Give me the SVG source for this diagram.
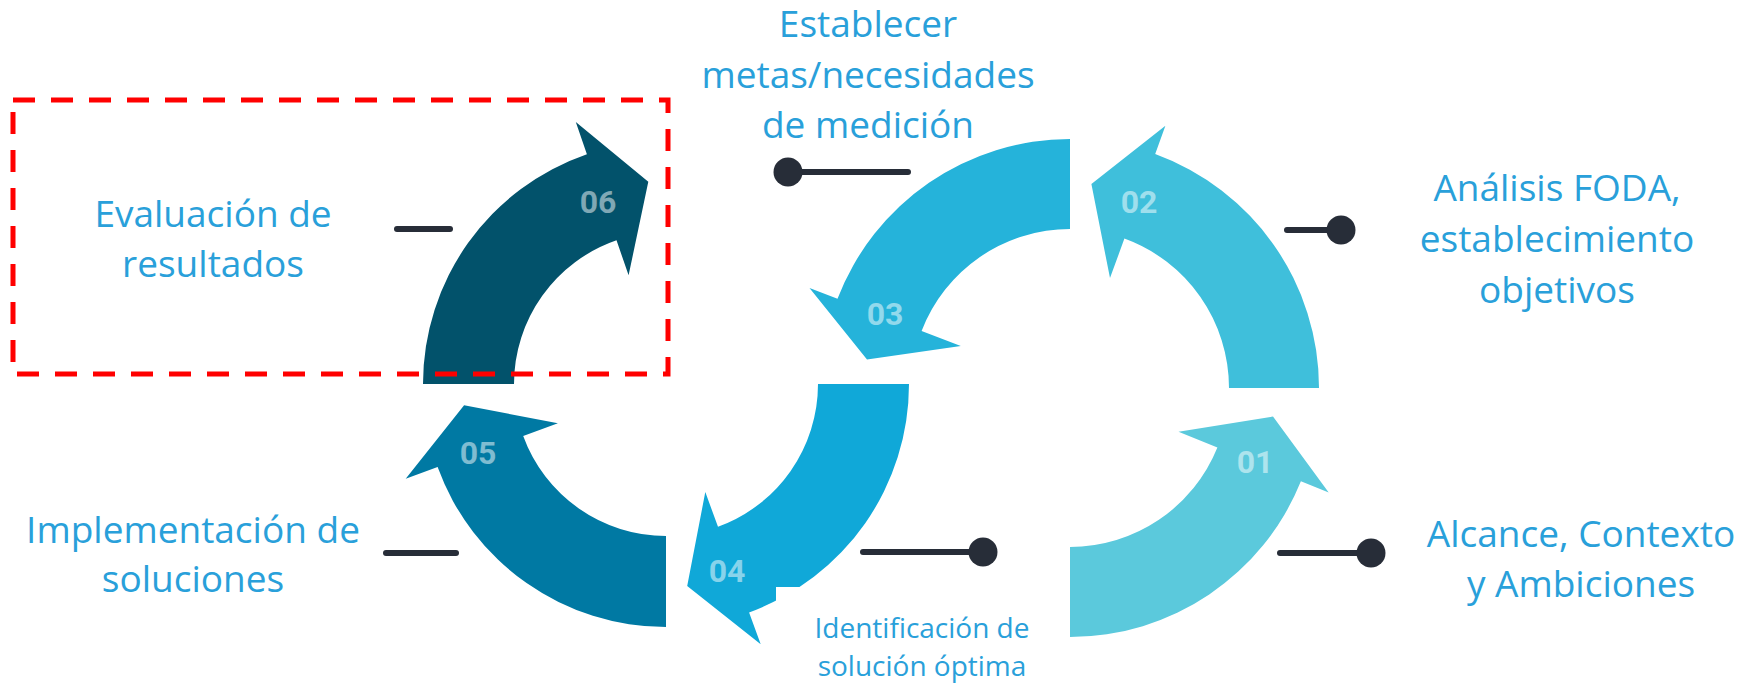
<svg xmlns="http://www.w3.org/2000/svg" width="1752" height="683" viewBox="0 0 1752 683">
<style>
.lbl{font-family:"Open Sans","Liberation Sans",sans-serif;font-size:37px;fill:#29a0da;text-anchor:middle}
.sm{font-size:28px}
.num{font-family:Roboto,"Liberation Sans",sans-serif;font-weight:bold;font-size:32px;fill:#ffffff;fill-opacity:0.5;text-anchor:middle}
.ln{stroke:#272d38;stroke-width:6;stroke-linecap:round;fill:none}
.dot{fill:#272d38}
</style>
<rect width="1752" height="683" fill="#ffffff"/>
<g id="arrow-01">
<path d="M1070,637 A249,249 0 0 0 1300.9,481.3 L1328.7,492.5 L1273,416.5 L1178.5,431.8 L1217.4,447.6 A159,159 0 0 1 1070,547 Z" fill="#5bc9dc"/>
<text class="num" x="1255" y="473">01</text>
</g>
<g id="arrow-02">
<path d="M1319,388 A249,249 0 0 0 1155.2,154 L1165.4,125.8 L1091.4,184.1 L1110,278.1 L1124.4,238.6 A159,159 0 0 1 1229,388 Z" fill="#3fbfdb"/>
<text class="num" x="1139" y="213">02</text>
</g>
<g id="arrow-03">
<path d="M1070,139 A249,249 0 0 0 837.5,298.8 L809.5,288 L867,359.5 L960.8,346.1 L921.6,331 A159,159 0 0 1 1070,229 Z" fill="#25b3da"/>
<text class="num" x="885" y="325">03</text>
</g>
<g id="arrow-04">
<path d="M909,384 A243,243 0 0 1 749.1,612.4 L760.7,644.3 L687.2,585.9 L705.3,492.1 L718,526.8 A152,152 0 0 0 818,384 Z" fill="#10a8d8"/>
<text class="num" x="727" y="582">04</text>
</g>
<g id="arrow-05">
<path d="M666,627 A243,243 0 0 1 437.6,467.1 L405.7,478.7 L464.1,405.2 L557.9,423.3 L523.2,436 A152,152 0 0 0 666,536 Z" fill="#0079a3"/>
<text class="num" x="478" y="464">05</text>
</g>
<g id="arrow-06">
<path d="M423,384 A243,243 0 0 1 586.9,154.2 L575.8,122.1 L648.3,181.8 L628.6,275.3 L616.5,240.3 A152,152 0 0 0 514,384 Z" fill="#02526b"/>
<text class="num" x="598" y="213">06</text>
</g>
<g id="connectors">
<line class="ln" x1="1287" y1="230" x2="1341" y2="230"/><circle class="dot" cx="1341" cy="230" r="14.5"/>
<line class="ln" x1="1280" y1="553" x2="1371" y2="553"/><circle class="dot" cx="1371" cy="553" r="14.5"/>
<line class="ln" x1="788" y1="172" x2="908" y2="172"/><circle class="dot" cx="788" cy="172" r="14.5"/>
<line class="ln" x1="863" y1="552" x2="983" y2="552"/><circle class="dot" cx="983" cy="552" r="14.5"/>
<line class="ln" x1="397" y1="229" x2="450" y2="229"/>
<line class="ln" x1="386" y1="553" x2="456" y2="553"/>
</g>
<g id="label-01"><text class="lbl" x="1581" y="547">Alcance, Contexto</text><text class="lbl" x="1581" y="597">y Ambiciones</text></g>
<g id="label-02"><text class="lbl" x="1557" y="201">Análisis FODA,</text><text class="lbl" x="1557" y="252">establecimiento</text><text class="lbl" x="1557" y="303">objetivos</text></g>
<g id="label-03"><text class="lbl" x="868" y="37">Establecer</text><text class="lbl" x="868" y="88">metas/necesidades</text><text class="lbl" x="868" y="138">de medición</text></g>
<g id="label-04"><rect x="776" y="587" width="294" height="96" fill="#ffffff"/><text class="lbl sm" x="922" y="638">Identificación de</text><text class="lbl sm" x="922" y="676">solución óptima</text></g>
<g id="label-05"><text class="lbl" x="193" y="543">Implementación de</text><text class="lbl" x="193" y="592">soluciones</text></g>
<g id="label-06"><text class="lbl" x="213" y="227">Evaluación de</text><text class="lbl" x="213" y="277">resultados</text></g>
<rect id="highlight" x="13" y="100" width="655" height="274" fill="none" stroke="#ff0000" stroke-width="5" stroke-dasharray="22 16"/>
</svg>
